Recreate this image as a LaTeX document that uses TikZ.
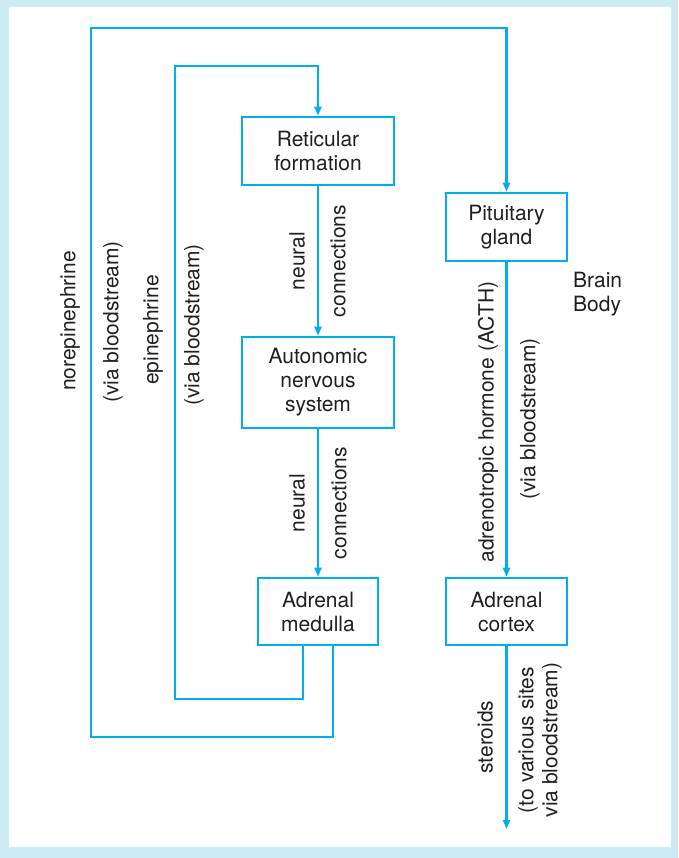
\documentclass[tikz,border=0pt]{standalone}
\usepackage{fontspec}
\setmainfont{TeX Gyre Heros}
\usetikzlibrary{arrows.meta}
\definecolor{bgblue}{HTML}{CCEBF2}
\definecolor{lineblue}{HTML}{00AEEF}
\definecolor{txtgray}{HTML}{231F20}
\begin{document}
\begin{tikzpicture}[x=1pt,y=-1pt,
  every node/.style={font=\fontsize{21}{24}\selectfont, text=txtgray},
  box/.style={draw=lineblue, line width=2.6pt, fill=white, align=center, inner sep=0pt},
  conn/.style={draw=lineblue, line width=2.6pt, -{Triangle[length=9pt,width=7pt]}},
  lbl/.style={rotate=90, align=center, inner sep=0pt}]
\useasboundingbox (0,0) rectangle (678,858);
\fill[bgblue] (0,0) rectangle (678,858);
\fill[white] (9,7) rectangle (671,847);

% boxes
\node[box, minimum width=152pt, minimum height=68pt] (ret) at (318,151) {Reticular\\formation};
\node[box, minimum width=121pt, minimum height=68pt] (pit) at (506.5,227) {Pituitary\\gland};
\node[box, minimum width=152pt, minimum height=91pt] (ans) at (318,382.5) {Autonomic\\nervous\\system};
\node[box, minimum width=120pt, minimum height=67pt] (med) at (318,611.5) {Adrenal\\medulla};
\node[box, minimum width=121pt, minimum height=67pt] (cor) at (506.5,611.5) {Adrenal\\cortex};

% corner coordinates
\coordinate (eB) at (303,699);
\coordinate (eL) at (175,699);
\coordinate (eT) at (175,66);
\coordinate (nB) at (333,737);
\coordinate (nL) at (91,737);
\coordinate (nT) at (91,28);
\coordinate (sEnd) at (506.5,829);

% connectors
\draw[conn] (ret.south) -- (ans.north);
\draw[conn] (ans.south) -- (med.north);
\draw[conn] (pit.south) -- (cor.north);
\draw[conn] (cor.south) -- (sEnd);
\draw[conn] (med.south -| eB) -- (eB) -- (eL) -- (eT) -| (ret.north);
\draw[conn] (med.south -| nB) -- (nB) -- (nL) -- (nT) -| (pit.north);

% labels
\node[lbl] (l1) at (70,321) {norepinephrine};
\node[lbl] (l2) at (113,322) {(via bloodstream)};
\node[lbl] (l3) at (153,330) {epinephrine};
\node[lbl] (l4) at (194,325) {(via bloodstream)};
\node[lbl] (l5) at (297,261) {neural};
\node[lbl] (l6) at (338,261) {connections};
\node[lbl] (l7) at (297,503) {neural};
\node[lbl] (l8) at (339,503) {connections};
\node[lbl] (l9) at (488,422) {adrenotropic hormone (ACTH)};
\node[lbl] (l10) at (530,419) {(via bloodstream)};
\node[lbl] (l11) at (485,737) {steroids};
\node[lbl] (l12) at (540,740) {(to various sites\\via bloodstream)};
\node[anchor=west, align=left, inner sep=0pt] (bb) at (573,294) {Brain\\Body};
\end{tikzpicture}
\end{document}
